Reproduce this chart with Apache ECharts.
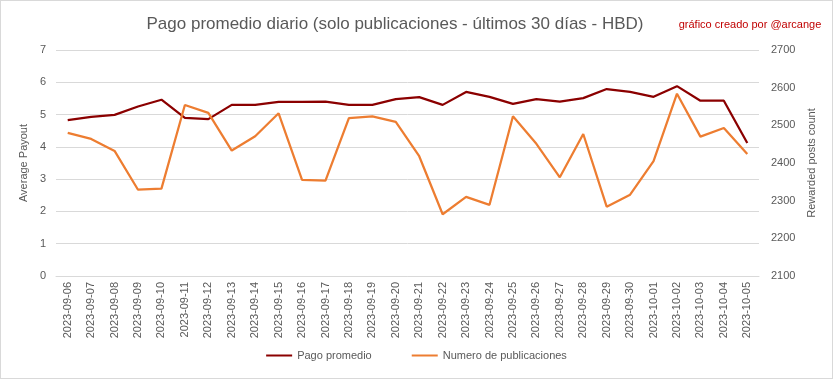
<!DOCTYPE html>
<html><head><meta charset="utf-8">
<script src="https://cdn.jsdelivr.net/npm/echarts@6/dist/echarts.min.js"></script>
<style>html,body{margin:0;padding:0;background:#fff}#c{position:absolute;left:0;top:0;width:831px;height:377px;border:1px solid #d9d9d9}</style>
</head><body><div id="c"></div>
<script>
const categories = ["2023-09-06","2023-09-07","2023-09-08","2023-09-09","2023-09-10","2023-09-11","2023-09-12","2023-09-13","2023-09-14","2023-09-15","2023-09-16","2023-09-17","2023-09-18","2023-09-19","2023-09-20","2023-09-21","2023-09-22","2023-09-23","2023-09-24","2023-09-25","2023-09-26","2023-09-27","2023-09-28","2023-09-29","2023-09-30","2023-10-01","2023-10-02","2023-10-03","2023-10-04","2023-10-05"];
const pagoPromedio = [4.83,4.93,4.99,5.25,5.46,4.90,4.86,5.30,5.30,5.39,5.39,5.40,5.30,5.30,5.48,5.54,5.30,5.70,5.55,5.33,5.48,5.40,5.51,5.79,5.70,5.55,5.88,5.43,5.43,4.12];
const numeroPublicaciones = [2480,2464,2432,2329,2332,2554,2533,2433,2471,2532,2355,2353,2519,2524,2509,2418,2264,2310,2289,2524,2451,2362,2477,2284,2316,2405,2584,2470,2493,2424];
const leftTicks = {min:0,max:7,interval:1};
const rightTicks = {min:2100,max:2700,interval:100};

const FONT = "'Liberation Sans', sans-serif";
const grey = '#595959';
const chart = echarts.init(document.getElementById('c'), null, {renderer:'canvas'});
chart.setOption({
  animation:false,
  textStyle:{fontFamily:FONT},
  title:[{text:'Pago promedio diario (solo publicaciones - últimos 30 días - HBD)', left:389, top:10, textAlign:'center',
          textStyle:{fontFamily:FONT,fontSize:17,fontWeight:'normal',color:grey}},
         {text:'gráfico creado por @arcange', left:744, top:13, textAlign:'center',
          textStyle:{fontFamily:FONT,fontSize:11,fontWeight:'normal',color:'#c00000'}}],
  legend:{bottom:12, left:'center', itemWidth:26, itemHeight:2, itemGap:40, icon:'rect',
    textStyle:{fontFamily:FONT,fontSize:11,color:grey},
    data:['Pago promedio','Numero de publicaciones']},
  grid:{left:55, right:73, top:49, height:226},
  xAxis:{type:'category', data:categories, boundaryGap:true,
    axisLine:{show:true,lineStyle:{color:'#d9d9d9'}}, axisTick:{show:false},
    axisLabel:{rotate:90, color:grey, fontSize:11, margin:6, interval:0}},
  yAxis:[{type:'value', min:leftTicks.min, max:leftTicks.max, interval:leftTicks.interval,
    name:'Average Payout', nameLocation:'middle', nameGap:21, nameRotate:90,
    nameTextStyle:{color:grey,fontSize:11},
    axisLabel:{color:grey,fontSize:11,margin:10},
    axisLine:{show:false}, axisTick:{show:false},
    splitLine:{lineStyle:{color:'#d9d9d9'}}},
   {type:'value', min:rightTicks.min, max:rightTicks.max, interval:rightTicks.interval,
    name:'Rewarded posts count', nameLocation:'middle', nameGap:37, nameRotate:90,
    nameTextStyle:{color:grey,fontSize:11},
    axisLabel:{color:grey,fontSize:11,margin:12, formatter:v=>String(v)},
    axisLine:{show:false}, axisTick:{show:false}, splitLine:{show:false}}],
  series:[
    {name:'Pago promedio', type:'line', data:pagoPromedio, yAxisIndex:0, symbol:'none',
     lineStyle:{color:'#8b0000', width:2.25}, itemStyle:{color:'#8b0000'}},
    {name:'Numero de publicaciones', type:'line', data:numeroPublicaciones, yAxisIndex:1, symbol:'none',
     lineStyle:{color:'#ed7d31', width:2.25}, itemStyle:{color:'#ed7d31'}}
  ]
});
</script></body></html>
